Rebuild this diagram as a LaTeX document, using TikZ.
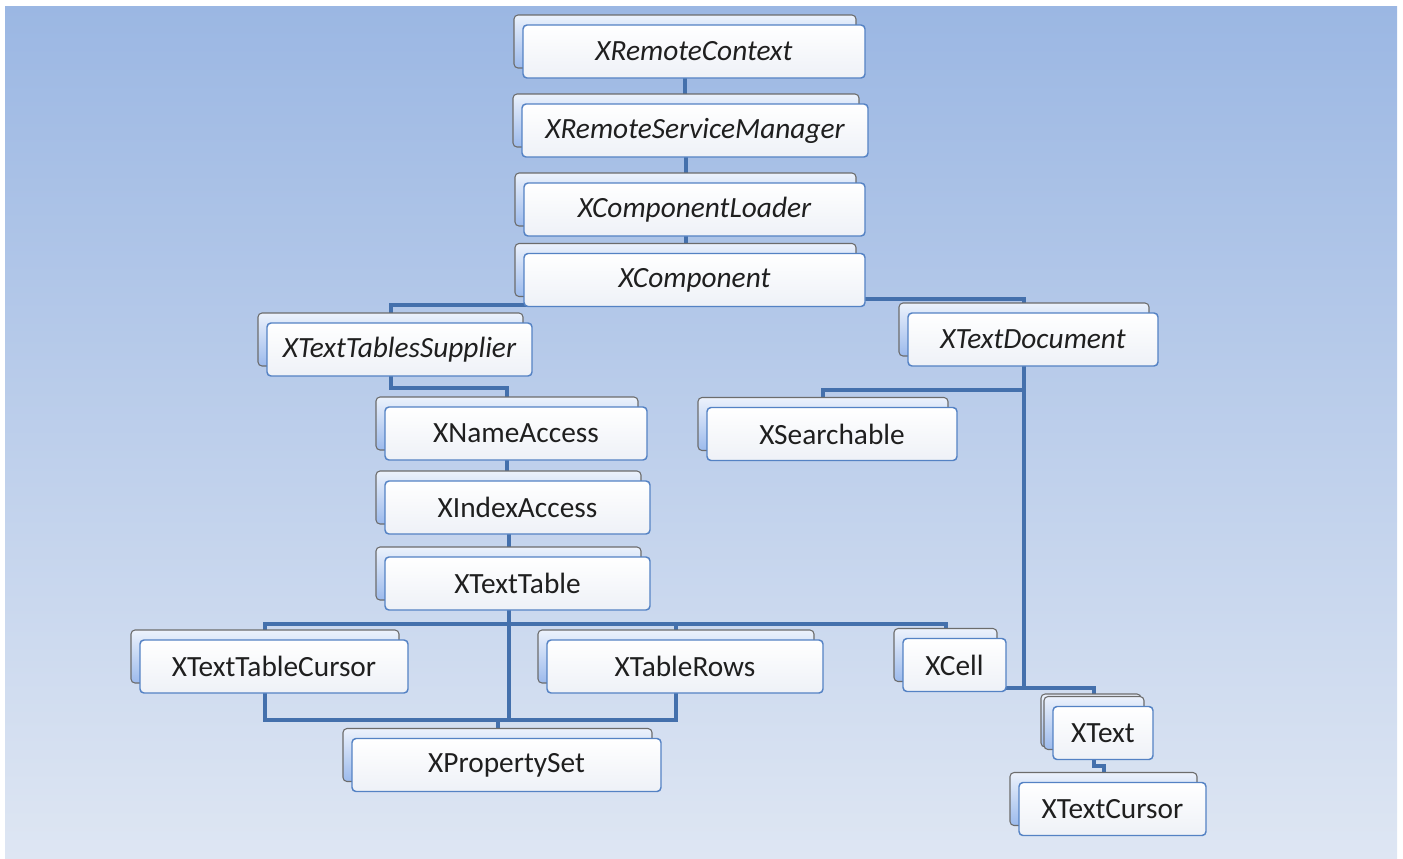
\documentclass[tikz,border=0pt]{standalone}
\usepackage{fontspec}
\setmainfont{Carlito}
\usepackage{tikz}
\usetikzlibrary{positioning,calc,shapes}
\definecolor{bgtop}{RGB}{155,183,227}
\definecolor{bgbot}{RGB}{222,230,243}
\definecolor{linkblue}{RGB}{68,112,172}
\definecolor{boxblue}{RGB}{84,130,196}
\definecolor{backtop}{RGB}{236,242,252}
\definecolor{backbot}{RGB}{156,186,236}
\definecolor{frontbot}{RGB}{238,241,247}
\pgfdeclarelayer{bg}
\pgfdeclarelayer{background}
\pgfsetlayers{bg,background,main}
\tikzset{
  backbox/.style={draw=gray!85!black, line width=0.8pt, rounded corners=3pt,
    top color=backtop, bottom color=backbot},
  frontbox/.style={draw=boxblue, line width=1.1pt, rounded corners=3pt,
    top color=white, bottom color=frontbot, inner sep=0pt,
    minimum height=53*0.75pt, text=black!88},
  link/.style={draw=linkblue, line width=3pt}
}
% #1 font, #2 name, #3 x, #4 y (centre), #5 width
\newcommand \ifacebox[6][]
{
\draw[backbox] ({#3-9-#5/2},{#4-36.5}) rectangle ++(#5,53);          % back card
\node[frontbox, minimum width=#5*0.75pt,
      font=\fontsize{22}{26}\selectfont#1] (#2) at (#3,#4) {#6};     % front card
\coordinate (#2-h) at ([xshift=-6.75pt]#2.center);                    % hub
}

\begin{document}
\begin{tikzpicture}[x=0.75pt, y=-0.75pt, line join=miter]
\useasboundingbox (0,0) rectangle (1403,858);
\begin{pgfonlayer}{bg}
\fill[top color=bgtop, bottom color=bgbot] (5,6) rectangle (1397,858);
\end{pgfonlayer}

\ifacebox[\itshape]{ctx}{694}{51.5}{342}{XRemoteContext}
\ifacebox[\itshape]{mgr}{695}{130.5}{346}{XRemoteServiceManager}
\ifacebox[\itshape]{ldr}{694.5}{209.5}{341}{XComponentLoader}
\ifacebox[\itshape]{comp}{694.5}{280}{341}{XComponent}
\ifacebox[\itshape]{tts}{399.5}{349.5}{265}{XTextTablesSupplier}
\ifacebox[\itshape]{tdoc}{1033}{339.5}{250}{XTextDocument}
\ifacebox{nacc}{516}{433.5}{262}{XNameAccess}
\ifacebox{srch}{832}{434}{250}{XSearchable}
\ifacebox{iacc}{517.5}{507.5}{265}{XIndexAccess}
\ifacebox{ttab}{517.5}{583.5}{265}{XTextTable}
\ifacebox{tcur}{274}{666.5}{268}{XTextTableCursor}
\ifacebox{rows}{685}{666.5}{276}{XTableRows}
\ifacebox{cell}{954.5}{665}{103}{XCell}
\ifacebox{pset}{506.5}{765}{309}{XPropertySet}
\draw[backbox] (1041,694) rectangle ++(100,53);
\ifacebox{text}{1103}{733}{100}{XText}
\ifacebox{tcsr}{1112.5}{809}{187}{XTextCursor}

\begin{pgfonlayer}{background}
\draw[link] (ctx-h) -- (ctx-h |- mgr-h);
\draw[link] (mgr-h) -- (mgr-h |- ldr-h);
\draw[link] (ldr-h) -- (ldr-h |- comp-h);
\draw[link] (comp-h) -- ++(0,25) -| (tts-h);
\draw[link] (comp-h) -- ++(0,19) -| (tdoc-h);
\draw[link] (tts-h) -- ++(0,38.5) -| (nacc-h);
\draw[link] (nacc-h) -- (nacc-h |- iacc-h);
\draw[link] (iacc-h) -- (iacc-h |- ttab-h);
\draw[link] (ttab-h) -- ++(0,40.5) -| (tcur-h);
\draw[link] (ttab-h) -- ++(0,40.5) -| (rows-h);
\draw[link] (ttab-h) -- ++(0,40.5) -| (cell-h);
\draw[link] (ttab-h) -- ++(0,136.5) -| (pset-h);
\draw[link] (tcur-h) -- ++(0,53.5) -| (pset-h);
\draw[link] (rows-h) -- ++(0,53.5) -| (pset-h);
\draw[link] (tdoc-h) -- ++(0,50.5) -| (srch-h);
\draw[link] (tdoc-h) -- ++(0,348.5) -| (text-h);
\draw[link] (cell-h) -- ++(0,23) -| (text-h);
\draw[link] (text-h) -- ++(0,33) -| (tcsr-h);
\end{pgfonlayer}
\end{tikzpicture}
\end{document}
